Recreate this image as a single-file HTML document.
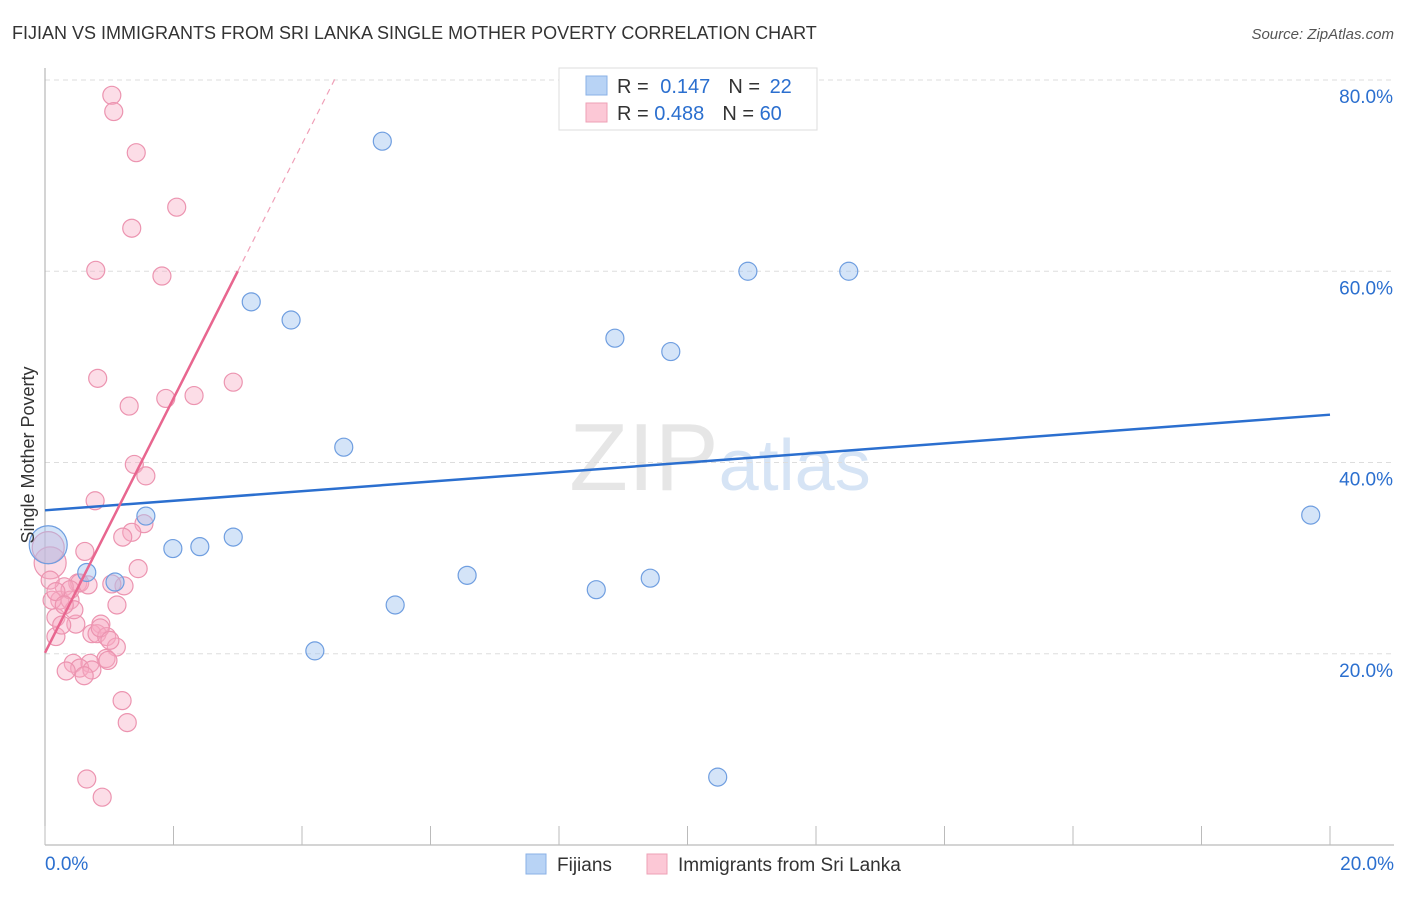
<!DOCTYPE html>
<html><head><meta charset="utf-8"><style>
body{margin:0;background:#fff;font-family:"Liberation Sans",sans-serif}
svg text{font-family:"Liberation Sans",sans-serif}
</style></head><body>
<svg id="c" width="1406" height="892" xmlns="http://www.w3.org/2000/svg">
<text x="12" y="39" font-size="18" fill="#333">FIJIAN VS IMMIGRANTS FROM SRI LANKA SINGLE MOTHER POVERTY CORRELATION CHART</text>
<text x="1394" y="39" font-size="15" fill="#555" font-style="italic" text-anchor="end">Source: ZipAtlas.com</text>
<text x="720" y="490" font-size="96" fill="#e6e6e6" text-anchor="middle" font-family="Liberation Serif">ZIP<tspan fill="#d6e4f5" font-family="Liberation Sans" font-size="72">atlas</tspan></text>
<g id="grid"></g><g id="pts"></g><g id="lines"></g>
<text x="34" y="455" font-size="18" fill="#333" text-anchor="middle" transform="rotate(-90 34 455)">Single Mother Poverty</text>
<g>
<rect x="559" y="68" width="258" height="62" fill="#fff" stroke="#ddd"/>
<rect x="586" y="76" width="21" height="19" fill="#b8d3f5" stroke="#8ab0e6"/>
<rect x="586" y="103" width="21" height="19" fill="#fcc8d6" stroke="#eea0b6"/>
<text x="617" y="93" font-size="20" fill="#333">R = <tspan fill="#2b6fcf" dx="6">0.147</tspan><tspan dx="18" fill="#333">N = </tspan><tspan fill="#2b6fcf" dx="4">22</tspan></text>
<text x="617" y="120" font-size="20" fill="#333">R = <tspan fill="#2b6fcf">0.488</tspan><tspan dx="18" fill="#333">N = </tspan><tspan fill="#2b6fcf">60</tspan></text>
</g>
<g>
<rect x="526" y="854" width="20" height="20" fill="#b8d3f5" stroke="#8ab0e6"/>
<text x="557" y="871" font-size="19" fill="#333">Fijians</text>
<rect x="647" y="854" width="20" height="20" fill="#fcc8d6" stroke="#eea0b6"/>
<text x="678" y="871" font-size="19" fill="#333">Immigrants from Sri Lanka</text>
</g>
</svg>
<script>
const yTicks=[20,40,60,80];
const yTickLabels=["20.0%","40.0%","60.0%","80.0%"];
const xTicks=[0,2,4,6,8,10,12,14,16,18,20];
const fijiX=[5.25,3.21,3.83,4.65,1.57,1.99,2.41,2.93,0.65,1.09,4.20,5.45,6.57,8.58,9.42,8.87,9.74,10.94,12.51,10.47,19.70,0.05];
const fijiY=[73.6,56.8,54.9,41.6,34.4,31.0,31.2,32.2,28.5,27.5,20.3,25.1,28.2,26.7,27.9,53.0,51.6,60.0,60.0,7.1,34.5,31.4];
const fijiBig=[0,0,0,0,0,0,0,0,0,0,0,0,0,0,0,0,0,0,0,0,0,1];
const sriX=[1.04,1.07,1.42,2.05,1.35,0.79,1.82,0.82,2.93,1.31,1.88,2.32,1.39,1.57,0.78,1.54,1.35,1.21,0.62,1.45,1.23,1.04,0.51,0.54,0.30,0.08,0.05,0.23,0.39,0.11,1.12,0.17,0.48,0.87,0.17,0.73,0.81,0.96,1.11,0.95,0.44,0.70,0.54,0.33,0.73,0.61,1.20,1.28,0.65,0.89,0.39,0.45,0.26,0.86,0.98,0.08,0.17,0.67,0.30,1.01];
const sriY=[78.4,76.7,72.4,66.7,64.5,60.1,59.5,48.8,48.4,45.9,46.7,47.0,39.8,38.6,36.0,33.6,32.7,32.2,30.7,28.9,27.1,27.3,27.4,27.4,27.0,29.5,31.1,25.6,25.6,25.6,25.1,23.8,23.1,23.1,21.8,22.1,22.1,21.8,20.7,19.5,19.0,19.0,18.5,18.2,18.3,17.7,15.1,12.8,6.9,5.0,26.7,24.6,23.0,22.7,19.3,27.7,26.5,27.2,25.1,21.4];
const sriBig=[0,0,0,0,0,0,0,0,0,0,0,0,0,0,0,0,0,0,0,0,0,0,0,0,0,1,1,0,0,0,0,0,0,0,0,0,0,0,0,0,0,0,0,0,0,0,0,0,0,0,0,0,0,0,0,0,0,0,0,0];
const fijiTrend=[35.0,45.0];
const sriTrend=[20.1,13.3];
const NS="http://www.w3.org/2000/svg";
const X=v=>45+v*64.25, Y=v=>845-v*9.5625;
function mk(t,a,p){const e=document.createElementNS(NS,t);for(const k in a)e.setAttribute(k,a[k]);p.appendChild(e);return e;}
const g=document.getElementById('grid');
yTicks.forEach((t,i)=>{
 const l=mk('line',{x1:45,x2:1394,y1:Y(t),y2:Y(t),stroke:'#ddd','stroke-dasharray':'5,4'},g);
 
 
 const tx=mk('text',{x:1393,y:Y(t)+23,'font-size':19,fill:'#2b6fcf','text-anchor':'end'},g);
 tx.textContent=yTickLabels[i];
 
 
});
let ax=mk('line',{x1:45,x2:45,y1:68,y2:845,stroke:'#aaa'},g);


ax=mk('line',{x1:45,x2:1394,y1:845,y2:845,stroke:'#aaa'},g);


xTicks.forEach(t=>{const l=mk('line',{x1:X(t),x2:X(t),y1:826,y2:845,stroke:'#bbb'},g);
 
 });
[[0,"0.0%","start",45],[20,"20.0%","end",1394]].forEach(d=>{const t=mk('text',{x:d[3],y:870,'font-size':19,fill:'#2b6fcf','text-anchor':d[2]},g);t.textContent=d[1];
 
 });
const p=document.getElementById('pts');
sriX.forEach((v,i)=>{const c=mk('circle',{cx:X(v),cy:Y(sriY[i]),r:sriBig[i]?16:9,fill:'rgba(248,170,195,0.4)',stroke:'#ec94b0','stroke-width':1.2},p);
 
 });
fijiX.forEach((v,i)=>{const c=mk('circle',{cx:X(v),cy:Y(fijiY[i]),r:fijiBig[i]?19:9,fill:'rgba(160,195,240,0.45)',stroke:'#6f9ee0','stroke-width':1.2},p);
 
 });
const L=document.getElementById('lines');
let l=mk('line',{x1:X(0),y1:Y(fijiTrend[0]),x2:X(20),y2:Y(fijiTrend[1]),stroke:'#2b6fcf','stroke-width':2.5},L);


l=mk('line',{x1:X(0),y1:Y(sriTrend[0]),x2:X(3),y2:Y(sriTrend[0]+3*sriTrend[1]),stroke:'#e8668f','stroke-width':2.5},L);


l=mk('line',{x1:X(3),y1:Y(sriTrend[0]+3*sriTrend[1]),x2:X(4.51),y2:Y(sriTrend[0]+4.51*sriTrend[1]),stroke:'#f0a0b8','stroke-width':1.2,'stroke-dasharray':'6,5'},L);


</script>
</body></html>
